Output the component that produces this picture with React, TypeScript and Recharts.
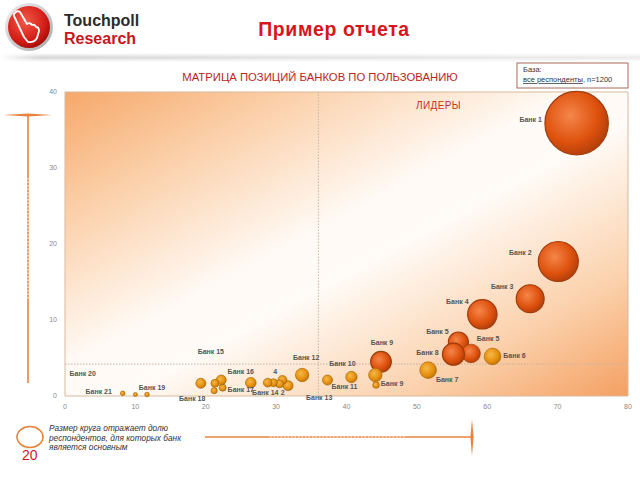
import React from "react";
import {
  ScatterChart,
  Scatter,
  XAxis,
  YAxis,
  ZAxis,
  ReferenceArea,
  ReferenceLine,
} from "recharts";

// ось X: пользование, ось Y: лояльность, z: доля основных клиентов
const bankNames = [
  "Банк 1", "Банк 2", "Банк 3", "Банк 4", "Банк 5", "Банк 5", "Банк 8", "Банк 6",
  "Банк 7", "Банк 9", "Банк 9", "Банк 9", "Банк 10", "Банк 11", "Банк 12",
  "Банк 14", "Банк 14", "Банк 14", "Банк 14", "Банк 14", "Банк 16", "Банк 17",
  "Банк 17", "Банк 18", "Банк 18", "Банк 15", "Банк 19", "Банк 20", "Банк 21",
];
const usage = [
  72.7, 70.1, 66.1, 59.3, 55.9, 57.7, 55.2, 60.75, 51.6, 44.9, 44.1, 44.2, 40.7,
  37.3, 33.7, 31.7, 30.9, 30.5, 29.6, 28.8, 26.4, 22.4, 22.2, 21.3, 21.2, 19.3,
  11.65, 10, 8.2,
];
const loyalty = [
  35.9, 17.7, 12.8, 10.75, 7.1, 5.6, 5.5, 5.2, 3.4, 4.5, 2.76, 1.45, 2.5, 2.1,
  2.76, 1.36, 2.1, 1.6, 1.75, 1.75, 1.75, 1.1, 2.1, 1.67, 0.7, 1.67, 0.2, 0.2,
  0.35,
];
const mainShare = [
  32, 12.7, 6.2, 6.9, 3.2, 2.75, 3.85, 2.2, 2.2, 3.4, 1.43, 0.35, 1.03, 0.8, 1.43,
  0.8, 0.65, 0.5, 0.5, 0.6, 0.9, 0.4, 0.8, 0.5, 0.3, 0.8, 0.17, 0.13, 0.17,
];
const xTicks = [0, 10, 20, 30, 40, 50, 60, 70, 80];
const yTicks = [0, 10, 20, 30, 40];

const rows = bankNames.map((name, i) => ({
  id: i,
  name,
  x: usage[i],
  y: loyalty[i],
  z: mainShare[i],
}));

// подписи: к какому кругу привязаны и сдвиг в пикселях
const labelPlacement = [
  { id: 0, text: "Банк 1", dx: -46, dy: -4 },
  { id: 1, text: "Банк 2", dx: -38, dy: -9 },
  { id: 2, text: "Банк 3", dx: -28, dy: -12 },
  { id: 3, text: "Банк 4", dx: -25, dy: -13 },
  { id: 4, text: "Банк 5", dx: -21, dy: -11 },
  { id: 5, text: "Банк 5", dx: 17, dy: -15 },
  { id: 6, text: "Банк 8", dx: -26, dy: -2 },
  { id: 7, text: "Банк 6", dx: 22, dy: -1 },
  { id: 8, text: "Банк 7", dx: 19, dy: 9 },
  { id: 9, text: "Банк 9", dx: 1, dy: -19 },
  { id: 11, text: "Банк 9", dx: 16, dy: -1 },
  { id: 12, text: "Банк 10", dx: -9, dy: -14 },
  { id: 13, text: "Банк 11", dx: 17, dy: 6 },
  { id: 14, text: "Банк 12", dx: 4, dy: -18 },
  { id: 14, text: "Банк 13", dx: 17, dy: 22 },
  { id: 18, text: "Банк 14", dx: -8, dy: 10 },
  { id: 18, text: "4", dx: 2, dy: -11 },
  { id: 17, text: "2", dx: 3, dy: 9 },
  { id: 20, text: "Банк 16", dx: -10, dy: -11 },
  { id: 20, text: "Банк 17", dx: -10, dy: 7 },
  { id: 25, text: "Банк 15", dx: 10, dy: -32 },
  { id: 24, text: "Банк 18", dx: -22, dy: 8 },
  { id: 26, text: "Банк 19", dx: 5, dy: -7 },
  { id: 28, text: "Банк 21", dx: -24, dy: -2 },
  { id: 28, text: "Банк 20", dx: -40, dy: -20 },
];

const FONT = "'Liberation Sans', Arial, sans-serif";

function Bubble(props: any) {
  const { cx, cy, width, payload } = props;
  const r = width / 2;
  const hot = payload.z >= 2.5;
  return (
    <circle
      cx={cx}
      cy={cy}
      r={r}
      fill={hot ? "url(#hotBall)" : "url(#warmBall)"}
      stroke={hot ? "#a03c0c" : "#ad6a08"}
      strokeWidth={r > 10 ? 1.2 : 0.7}
    />
  );
}

function BankLabel(props: any) {
  const { cx, cy, payload } = props;
  const mine = labelPlacement.filter((l) => l.id === payload.id);
  return (
    <g>
      {mine.map((l, i) => (
        <text
          key={i}
          x={cx + l.dx}
          y={cy + l.dy}
          textAnchor="middle"
          dominantBaseline="central"
          fontFamily={FONT}
          fontSize={7}
          fontWeight="bold"
          fill="#555"
        >
          {l.text}
        </text>
      ))}
    </g>
  );
}

function Decor() {
  return (
    <svg
      width={640}
      height={480}
      style={{ position: "absolute", left: 0, top: 0 }}
      fontFamily={FONT}
    >
      <defs>
        <radialGradient id="logoRed" cx="0.4" cy="0.35" r="0.7">
          <stop offset="0" stopColor="#f25a4a" />
          <stop offset="0.7" stopColor="#d31c16" />
          <stop offset="1" stopColor="#9c0c08" />
        </radialGradient>
        <linearGradient id="logoRing" x1="0" y1="0" x2="1" y2="1">
          <stop offset="0" stopColor="#f0f0f0" />
          <stop offset="1" stopColor="#a8a8a8" />
        </linearGradient>
        <linearGradient id="band" x1="0" y1="0" x2="1" y2="0">
          <stop offset="0" stopColor="#ffffff" />
          <stop offset="0.06" stopColor="#d6d6d6" />
          <stop offset="0.5" stopColor="#e4e4e4" />
          <stop offset="1" stopColor="#ececec" />
        </linearGradient>
        <linearGradient id="bandV" x1="0" y1="0" x2="0" y2="1">
          <stop offset="0" stopColor="#fff" stopOpacity="1" />
          <stop offset="0.5" stopColor="#fff" stopOpacity="0" />
          <stop offset="1" stopColor="#fff" stopOpacity="1" />
        </linearGradient>
      </defs>

      {/* логотип */}
      <circle cx={29} cy={27} r={24} fill="url(#logoRing)" />
      <circle cx={29} cy={27} r={21} fill="url(#logoRed)" />
      <path
        d="M15 13 Q17 10 20 12 L27 24 Q30 22 32 25 Q35 24 36 27 Q39 27 39 31 L37 38 Q34 43 28 42 L24 37 L14 16 Q13 14 15 13 Z"
        fill="none"
        stroke="#fff"
        strokeWidth={1.8}
        strokeLinejoin="round"
      />
      <text x={64} y={26} fontSize={16} fontWeight="bold" fill="#2b2b2b">
        Touchpoll
      </text>
      <text x={64} y={44} fontSize={16} fontWeight="bold" fill="#c8161d">
        Research
      </text>

      <text
        x={334}
        y={36}
        textAnchor="middle"
        fontSize={19.5}
        fontWeight="bold"
        fill="#d8141c"
        letterSpacing={0.6}
      >
        Пример отчета
      </text>

      <rect x={0} y={53} width={640} height={9} fill="url(#band)" />
      <rect x={0} y={53} width={640} height={9} fill="url(#bandV)" />

      <text
        x={320}
        y={81}
        textAnchor="middle"
        fontSize={11.3}
        fill="#b8281c"
      >
        МАТРИЦА ПОЗИЦИЙ БАНКОВ ПО ПОЛЬЗОВАНИЮ
      </text>

      <rect
        x={517}
        y={63}
        width={111}
        height={25}
        fill="#fff"
        stroke="#a86a5c"
        strokeWidth={1}
      />
      <text x={523} y={72} fontSize={7.5} fill="#333">
        База:
      </text>
      <text x={523} y={82} fontSize={7.5} fill="#333">
        <tspan textDecoration="underline">все респонденты</tspan>, n=1200
      </text>

      {/* стрелка слева */}
      <line x1={28} y1={115} x2={28} y2={383} stroke="#e8843f" strokeWidth={1.6} />
      <polygon points="3,115 28,113.4 52,115 28,116.6" fill="#e8843f" />
      <line
        x1={28}
        y1={178}
        x2={28}
        y2={300}
        stroke="#f8dcc6"
        strokeWidth={1.6}
        strokeDasharray="1.5 2"
      />

      {/* стрелка снизу */}
      <line x1={205} y1={437} x2={472} y2={437} stroke="#e8843f" strokeWidth={1.6} />
      <polygon points="472,419 470.4,437 472,456 473.6,437" fill="#e8843f" />
      <line
        x1={270}
        y1={437}
        x2={405}
        y2={437}
        stroke="#f8dcc6"
        strokeWidth={1.6}
        strokeDasharray="1.5 2"
      />

      {/* легенда размера */}
      <ellipse
        cx={30}
        cy={437}
        rx={13}
        ry={10.5}
        fill="none"
        stroke="#e8833a"
        strokeWidth={1.6}
      />
      <text x={22} y={460} fontSize={14} fill="#cc1a1a">
        20
      </text>
      <text fontSize={8.3} fontStyle="italic" fill="#333">
        <tspan x={49} y={431}>Размер круга отражает долю</tspan>
        <tspan x={49} y={441}>респондентов, для которых банк</tspan>
        <tspan x={49} y={450}>является основным</tspan>
      </text>
    </svg>
  );
}

export default function App() {
  return (
    <div
      style={{
        position: "absolute",
        left: 0,
        top: 0,
        width: 640,
        height: 480,
        background: "#fff",
        overflow: "hidden",
      }}
    >
      <Decor />
      <div style={{ position: "absolute", left: 0, top: 0 }}>
        <ScatterChart
          width={640}
          height={480}
          margin={{ top: 92, right: 12, bottom: 64, left: 35 }}
        >
          <defs>
            <linearGradient id="plotBg" x1="0" y1="0" x2="1" y2="1">
              <stop offset="0" stopColor="#f6a86a" />
              <stop offset="0.2" stopColor="#fbcfa8" />
              <stop offset="0.45" stopColor="#fffaf5" />
              <stop offset="0.55" stopColor="#fffbf7" />
              <stop offset="0.8" stopColor="#fbd1ac" />
              <stop offset="1" stopColor="#f4a062" />
            </linearGradient>
            <radialGradient id="hotBall" cx="0.4" cy="0.38" r="0.65">
              <stop offset="0" stopColor="#f5864a" />
              <stop offset="0.65" stopColor="#de520e" />
              <stop offset="1" stopColor="#b33e0a" />
            </radialGradient>
            <radialGradient id="warmBall" cx="0.4" cy="0.38" r="0.65">
              <stop offset="0" stopColor="#f6b848" />
              <stop offset="0.65" stopColor="#e5900f" />
              <stop offset="1" stopColor="#bf7208" />
            </radialGradient>
          </defs>
          <XAxis
            type="number"
            dataKey="x"
            domain={[0, 80]}
            ticks={xTicks}
            height={20}
            axisLine={false}
            tickLine={false}
            tick={{ fontSize: 7, fill: "#888", fontFamily: FONT }}
          />
          <YAxis
            type="number"
            dataKey="y"
            domain={[0, 40]}
            ticks={yTicks}
            width={30}
            axisLine={false}
            tickLine={false}
            tick={{ fontSize: 7, fill: "#888", fontFamily: FONT }}
          />
          <ZAxis type="number" dataKey="z" domain={[0, 32]} range={[0, 3157]} />
          <ReferenceArea
            x1={0}
            x2={80}
            y1={0}
            y2={40}
            fill="url(#plotBg)"
            fillOpacity={1}
            stroke="#d9b99c"
            strokeWidth={1}
          />
          <ReferenceLine x={36} stroke="#c4b4a4" strokeDasharray="1.5 1.5" />
          <ReferenceLine y={4.2} stroke="#c4b4a4" strokeDasharray="1.5 1.5" />
          <ReferenceLine
            y={38.2}
            stroke="none"
            label={{
              value: "ЛИДЕРЫ",
              position: "insideLeft",
              dx: 346,
              fill: "#c8301e",
              fontSize: 10,
              fontFamily: FONT,
              letterSpacing: 0.4,
            }}
          />
          <Scatter
            data={rows}
            shape={(p: any) => <Bubble {...p} />}
            isAnimationActive={false}
          />
          <Scatter
            data={rows}
            shape={(p: any) => <BankLabel {...p} />}
            isAnimationActive={false}
          />
        </ScatterChart>
      </div>
    </div>
  );
}
